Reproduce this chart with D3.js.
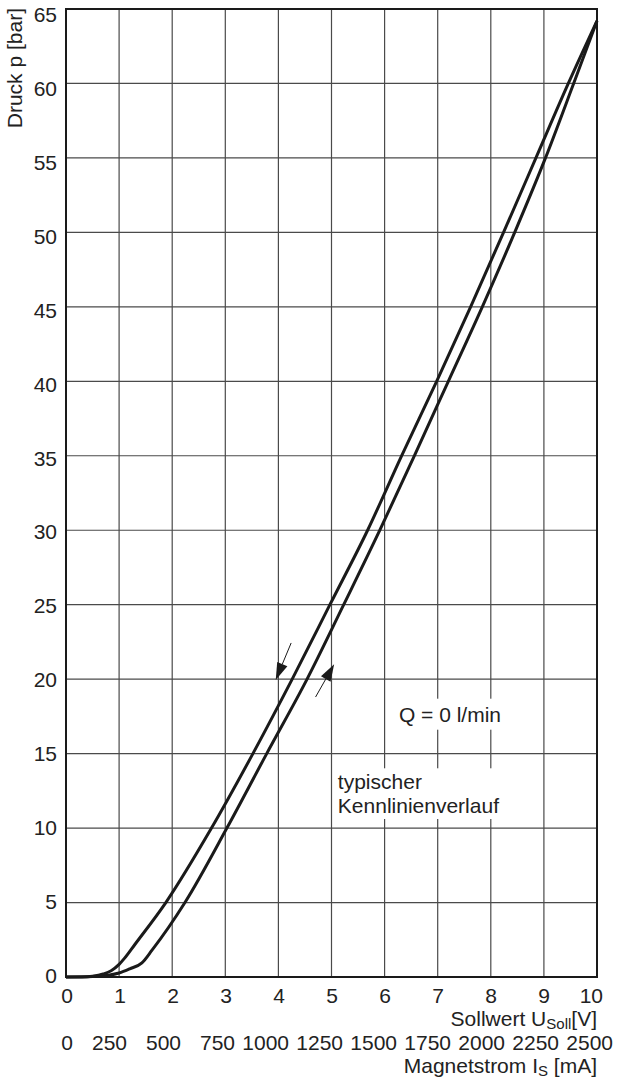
<!DOCTYPE html>
<html><head><meta charset="utf-8">
<script src="https://cdn.jsdelivr.net/npm/d3@7"></script>
<style>body{margin:0;background:#fff}svg{display:block}text{font-family:"Liberation Sans",Arial,Helvetica,sans-serif;fill:#222}</style>
</head><body>
<script>
// ---- data ----
const voltTicks = [0,1,2,3,4,5,6,7,8,9,10];
const currentTicks = [0,250,500,750,1000,1250,1500,1750,2000,2250,2500];
const pressureTicks = [0,5,10,15,20,25,30,35,40,45,50,55,60,65];
// rising branch (lower curve)
const riseV = [0,0.5,0.8,1.0,1.2,1.43,1.62,2.24,3.03,3.78,4.54,5.23,5.91,6.56,7.20,7.84,8.45,9.03,9.56,10];
const riseP = [0,0.03,0.12,0.27,0.55,0.95,1.8,5,10,15,20,25,30,35,40,45,50,55,60,64.2];
// falling branch (upper curve)
const fallV = [0,0.3,0.5,0.7,0.85,1.0,1.1,1.3,1.88,2.74,3.52,4.26,4.97,5.68,6.32,6.98,7.62,8.24,8.85,9.46,10];
const fallP = [0,0,0.05,0.2,0.42,0.85,1.25,2.2,5,10,15,20,25,30,35,40,45,50,55,60,64.2];
const arrowTails = [[4.24,22.43],[4.70,18.8]];
const arrowTips  = [[3.95,19.95],[5.05,21.0]];
const flowLabel = "Q = 0 l/min";
const noteLines = ["typischer","Kennlinienverlauf"];

// ---- setup ----
const W=618,H=1079;
const svg=d3.select("body").append("svg").attr("width",W).attr("height",H);
svg.append("rect").attr("width",W).attr("height",H).attr("fill","#fff");
const x=d3.scaleLinear().domain([0,10]).range([66,597]);
const y=d3.scaleLinear().domain([0,65]).range([977,9]);
const xLabV=d3.scaleLinear().domain([0,10]).range([73,603]);
const xLabI=d3.scaleLinear().domain([0,2500]).range([73,613]);
const yLab=d3.scaleLinear().domain([0,65]).range([983,22]);

// grid
const g=svg.append("g");
g.selectAll("line.v").data(voltTicks.slice(1,-1)).join("line")
 .attr("x1",d=>x(d)).attr("x2",d=>x(d)).attr("y1",y(65)).attr("y2",y(0))
 .attr("stroke","#4a4a4a").attr("stroke-width",1.2);
g.selectAll("line.h").data(pressureTicks.slice(1,-1)).join("line")
 .attr("x1",x(0)).attr("x2",x(10)).attr("y1",d=>y(d)).attr("y2",d=>y(d))
 .attr("stroke","#4a4a4a").attr("stroke-width",1.2);

// annotation texts with white background
function boxedText(lines, xv, yp, lh, padX, padTop, padBot){
  const t=svg.append("text").attr("font-size",21);
  lines.forEach((s,i)=>t.append("tspan").attr("x",x(xv)).attr("y",y(yp)+i*lh).text(s));
  const b=t.node().getBBox();
  svg.insert("rect",()=>t.node()).attr("x",b.x-padX).attr("y",b.y-padTop)
    .attr("width",b.width+2*padX).attr("height",b.height+padTop+padBot).attr("fill","#fff");
  return t;
}
boxedText([flowLabel], 6.27, (977-721.7)/14.892, 0, 6, 4, 4);
boxedText(noteLines, 5.12, (977-789.3)/14.892, 23.7, 4, 2, 2);

// frame
svg.append("rect").attr("x",x(0)).attr("y",y(65)).attr("width",x(10)-x(0)).attr("height",y(0)-y(65))
 .attr("fill","none").attr("stroke","#1a1a1a").attr("stroke-width",2);

// curves
const line=d3.line().x(d=>x(d[0])).y(d=>y(d[1])).curve(d3.curveMonotoneX);
[[riseV,riseP],[fallV,fallP]].forEach(([vs,ps])=>{
  svg.append("path").attr("d",line(vs.map((v,i)=>[v,ps[i]])))
   .attr("fill","none").attr("stroke","#1a1a1a").attr("stroke-width",3).attr("stroke-linejoin","round");
});

// arrows
arrowTails.forEach((tl,i)=>{
  const tp=arrowTips[i];
  const x1=x(tl[0]),y1=y(tl[1]),x2=x(tp[0]),y2=y(tp[1]);
  const dx=x2-x1,dy=y2-y1,L=Math.hypot(dx,dy),ux=dx/L,uy=dy/L;
  const hl=17,hw=5.5;
  const bx=x2-ux*hl,by=y2-uy*hl;
  svg.append("line").attr("x1",x1).attr("y1",y1).attr("x2",bx).attr("y2",by)
   .attr("stroke","#1a1a1a").attr("stroke-width",1);
  svg.append("path").attr("d",`M${x2},${y2}L${bx-uy*hw},${by+ux*hw}L${bx+uy*hw},${by-ux*hw}Z`)
   .attr("fill","#1a1a1a");
});

// tick labels
svg.selectAll("text.yl").data(pressureTicks).join("text").attr("class","yl")
 .attr("x",57).attr("y",d=>yLab(d)).attr("text-anchor","end").attr("font-size",21).text(d=>d);
svg.selectAll("text.xv").data(voltTicks).join("text").attr("class","xv")
 .attr("x",d=>xLabV(d)).attr("y",1003).attr("text-anchor","end").attr("font-size",21).text(d=>d);
svg.selectAll("text.xi").data(currentTicks).join("text").attr("class","xi")
 .attr("x",d=>xLabI(d)).attr("y",1050).attr("text-anchor","end").attr("font-size",21).text(d=>d);

// axis titles
const t1=svg.append("text").attr("x",597).attr("y",1026).attr("text-anchor","end").attr("font-size",21);
t1.append("tspan").text("Sollwert U");
t1.append("tspan").attr("font-size",15).attr("dy",3).text("Soll");
t1.append("tspan").attr("dy",-3).text("[V]");
const t2=svg.append("text").attr("x",597).attr("y",1073).attr("text-anchor","end").attr("font-size",21);
t2.append("tspan").text("Magnetstrom I");
t2.append("tspan").attr("font-size",15).attr("dy",3).text("S");
t2.append("tspan").attr("dy",-3).text(" [mA]");
svg.append("text").attr("transform","translate(22,8) rotate(-90)").attr("text-anchor","end")
 .attr("font-size",21).text("Druck p [bar]");
</script>
</body></html>
